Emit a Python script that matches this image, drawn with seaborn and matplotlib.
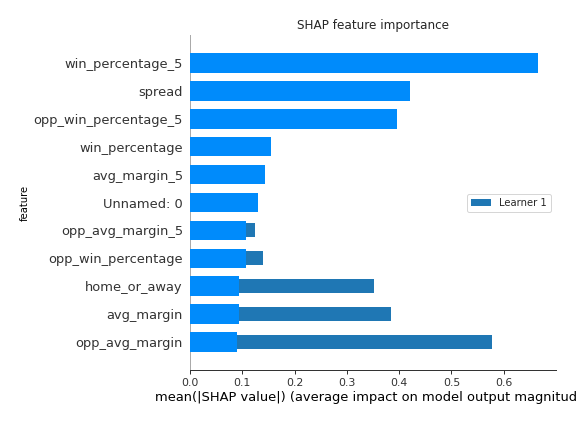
import matplotlib
matplotlib.use("Agg")
import matplotlib.pyplot as plt
import seaborn as sns
import pandas as pd

features = ["win_percentage_5", "spread", "opp_win_percentage_5", "win_percentage",
            "avg_margin_5", "Unnamed: 0", "opp_avg_margin_5", "opp_win_percentage",
            "home_or_away", "avg_margin", "opp_avg_margin"]
shap_values = [0.666, 0.420, 0.395, 0.154, 0.143, 0.131, 0.108, 0.108, 0.093, 0.093, 0.089]
learner1_values = [0.060, 0.050, 0.045, 0.040, 0.035, 0.030, 0.125, 0.139, 0.351, 0.385, 0.578]

sns.set_style("white")
plt.rcParams['font.family'] = ['DejaVu Sans']

df = pd.DataFrame({"feature": features, "shap": shap_values, "learner": learner1_values})

fig = plt.figure(figsize=(8, 424 / 72), dpi=72)
ax = fig.add_axes([190 / 576, 1 - 370 / 424, (556 - 190) / 576, (370 - 35) / 424])

sns.barplot(data=df, x="learner", y="feature", order=features, color="#1f77b4",
            width=0.5, saturation=1, ax=ax, label="Learner 1", zorder=2,
            linewidth=0, edgecolor="none")
sns.barplot(data=df, x="shap", y="feature", order=features, color="#008bfb",
            width=0.7, saturation=1, ax=ax, zorder=3, linewidth=0, edgecolor="none")

ax.set_xlim(0, 0.70)
ax.set_ylim(len(features), -1)
ax.set_xticks([0.0, 0.1, 0.2, 0.3, 0.4, 0.5, 0.6])

for s in ["top", "right"]:
    ax.spines[s].set_visible(False)
ax.spines["left"].set_color("#aaaaaa")
ax.spines["left"].set_linewidth(1)
ax.spines["bottom"].set_color("#333333")
ax.spines["bottom"].set_linewidth(1)

ax.tick_params(axis="y", length=0, pad=7, labelsize=13, labelcolor="#333333")
ax.tick_params(axis="x", length=4, width=1, color="#333333", labelsize=11,
               labelcolor="#333333", bottom=True)

ax.set_xlabel("mean(|SHAP value|) (average impact on model output magnitude)",
              fontsize=13, color="black")
ax.set_ylabel("feature", fontsize=10, color="black")
ax.set_title("SHAP feature importance", fontsize=12)

leg = ax.legend(handles=[ax.containers[0]], labels=["Learner 1"], loc="center right",
                bbox_to_anchor=(1.0, 0.5), fontsize=10, frameon=True)

fig.savefig("out.png", dpi=72)
